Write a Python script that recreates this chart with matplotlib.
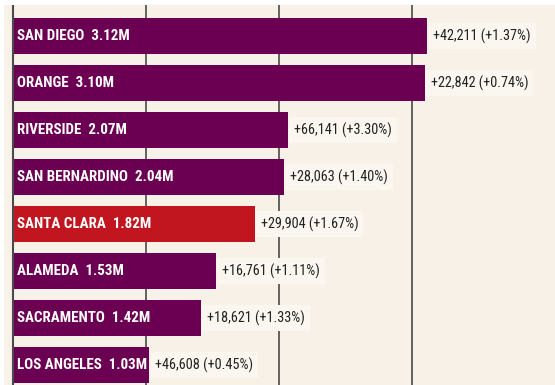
import matplotlib
matplotlib.use("Agg")
import matplotlib.pyplot as plt
from matplotlib import font_manager

counties = ["SAN DIEGO", "ORANGE", "RIVERSIDE", "SAN BERNARDINO",
            "SANTA CLARA", "ALAMEDA", "SACRAMENTO", "LOS ANGELES"]
population_m = [3.12, 3.10, 2.07, 2.04, 1.82, 1.53, 1.42, 1.03]
change = [42211, 22842, 66141, 28063, 29904, 16761, 18621, 46608]
change_pct = [1.37, 0.74, 3.30, 1.40, 1.67, 1.11, 1.33, 0.45]
highlight = "SANTA CLARA"
grid_ticks = [1, 2, 3]

available = {f.name for f in font_manager.fontManager.ttflist}
font = "DejaVu Sans"
for cand in ["Roboto Condensed", "Liberation Sans Narrow", "DejaVu Sans Condensed",
             "Liberation Sans", "Roboto"]:
    if cand in available:
        font = cand
        break
plt.rcParams["font.family"] = [font, "DejaVu Sans"]

W, H = 555, 385
fig = plt.figure(figsize=(W / 100, H / 100), dpi=100, facecolor="white")
ax = fig.add_axes([4 / W, 0, (W - 4) / W, (H - 5) / H])
bg = "#f8f1e8"
ax.set_facecolor(bg)

ppm = 133.0  # pixels per million
ax.set_xlim(-(12.5 - 4) / ppm, (W - 12.5) / ppm)
ax.set_ylim(7 + 20 / 47, -31 / 47)

purple = "#6b0052"
red = "#c1161f"
colors = [red if c == highlight else purple for c in counties]
ypos = list(range(len(counties)))

for g in grid_ticks:
    ax.axvline(g, color="#4a4a4a", lw=1.2, zorder=0)
ax.axvline(0, color="#4a4a4a", lw=1.5, zorder=3)

ax.barh(ypos, population_m, height=36 / 47, color=colors, zorder=2)

for y, name, v, ch, pc in zip(ypos, counties, population_m, change, change_pct):
    ax.text(4.5 / ppm, y, f"{name}  {v:.2f}M", color="white", fontweight="bold",
            fontsize=10.8, va="center", ha="left", zorder=4)
    ax.text(v + 6 / ppm, y, f"+{ch:,} (+{pc:.2f}%)", color="#222222",
            fontsize=10.3, va="center", ha="left", zorder=4,
            bbox=dict(facecolor="#fbf6f0", edgecolor="none", pad=3.5))

for s in ax.spines.values():
    s.set_visible(False)
ax.set_xticks([])
ax.set_yticks([])

fig.savefig("out.png", dpi=100, facecolor="white")
